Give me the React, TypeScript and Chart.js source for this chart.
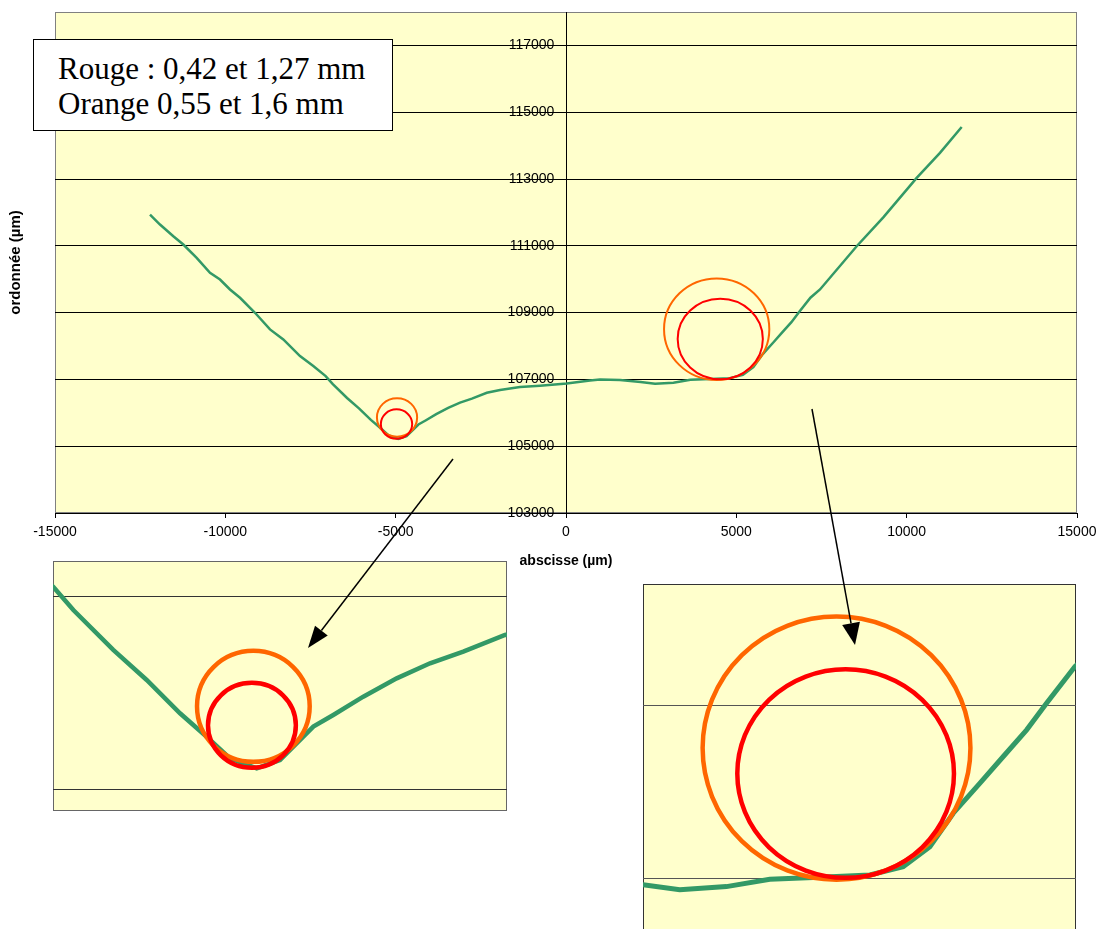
import React, { useEffect, useRef } from "react";
import { Chart, registerables } from "chart.js";

Chart.register(...registerables);

// ---- Data (µm) ----
const profileX = [
  -12211, -11918, -11527, -11234, -10841, -10450, -10156, -9863, -9569, -9129,
  -8689, -8298, -7808, -7418, -7055, -6845, -6427, -6077, -5728, -5449,
  -5205, -4925, -4681, -4332, -4123, -3809, -3459, -3110, -2762, -2325,
  -1937, -1350, -763, 21, 705, 998, 1585, 2190, 2614, 3153,
  3653, 4230, 4807, 5192, 5500, 5770, 6078, 6347, 6617, 6848,
  7175, 7456, 8533, 9314, 10294, 10978, 11615,
];
const profileY = [
  111936, 111637, 111287, 111038, 110640, 110192, 109991, 109692, 109444, 108995,
  108496, 108197, 107697, 107398, 107099, 106858, 106444, 106133, 105788, 105545,
  105321, 105218, 105304, 105649, 105770, 105960, 106150, 106306, 106426, 106599,
  106680, 106770, 106810, 106880, 106970, 107000, 106979, 106925, 106867, 106903,
  106988, 107012, 107038, 107134, 107365, 107751, 108098, 108406, 108714, 109023,
  109446, 109692, 110987, 111850, 113033, 113781, 114559,
];

// circles: orange & red at left, orange & red at right
const circleX = [-4960, -4975, 4423, 4528];
const circleY = [105860, 105663, 108503, 108209];
const circleRX = [590, 460, 1545, 1250];
const circleRY = [575, 440, 1520, 1205];
const circleColors = ["#FF6600", "#FF0000", "#FF6600", "#FF0000"];

const xTicks = [-15000, -10000, -5000, 0, 5000, 10000, 15000];
const yTicks = [103000, 105000, 107000, 109000, 111000, 113000, 115000, 117000];

const legendLines = ["Rouge : 0,42 et 1,27 mm", "Orange 0,55 et 1,6 mm"];
const xTitle = "abscisse (µm)";
const yTitle = "ordonnée (µm)";

// zoom windows for the two enlarged views
const leftZoomX = [-7058, -2304];
const leftZoomY = [104775, 107366];
const rightZoomX = [2190, 7186];
const rightZoomY = [106240, 110399];

const GREEN = "#339966";
const BG = "#FFFFCC";
const SANS = '"Liberation Sans", Arial, sans-serif';

const points = profileX.map((x, i) => ({ x, y: profileY[i] }));

const decorPlugin = {
  id: "decor",
  beforeDraw(chart: any, _a: any, opts: any) {
    const { ctx, chartArea: a } = chart;
    ctx.save();
    ctx.fillStyle = BG;
    ctx.fillRect(a.left, a.top, a.right - a.left, a.bottom - a.top);
    ctx.strokeStyle = opts.border;
    ctx.lineWidth = 1;
    ctx.strokeRect(a.left + 0.5, a.top + 0.5, a.right - a.left - 1, a.bottom - a.top - 1);
    ctx.restore();
  },
  afterDatasetsDraw(chart: any, _a: any, opts: any) {
    const { ctx, chartArea: a, scales } = chart;
    const xs = scales.x;
    const ys = scales.y;
    ctx.save();
    ctx.beginPath();
    ctx.rect(a.left, a.top, a.right - a.left, a.bottom - a.top);
    ctx.clip();
    circleX.forEach((cx, i) => {
      const px = xs.getPixelForValue(cx);
      const py = ys.getPixelForValue(circleY[i]);
      const rx = Math.abs(xs.getPixelForValue(cx + circleRX[i]) - px);
      const ry = Math.abs(ys.getPixelForValue(circleY[i] + circleRY[i]) - py);
      ctx.beginPath();
      ctx.ellipse(px, py, rx, ry, 0, 0, Math.PI * 2);
      ctx.strokeStyle = circleColors[i];
      ctx.lineWidth = opts.circleWidth;
      ctx.stroke();
    });
    ctx.restore();
  },
  afterDraw(chart: any, _a: any, opts: any) {
    if (!opts.titles) return;
    const { ctx, chartArea: a } = chart;
    ctx.save();
    ctx.fillStyle = "#000";
    ctx.textAlign = "center";
    ctx.textBaseline = "middle";
    ctx.font = "bold 14px " + SANS;
    ctx.fillText(xTitle, (a.left + a.right) / 2, a.bottom + 48);
    ctx.font = "bold 15px " + SANS;
    ctx.translate(16, (a.top + a.bottom) / 2);
    ctx.rotate(-Math.PI / 2);
    ctx.fillText(yTitle, 0, 0);
    ctx.restore();
  },
};

function mainConfig(): any {
  return {
    type: "scatter",
    data: {
      datasets: [
        {
          data: points,
          showLine: true,
          borderColor: GREEN,
          borderWidth: 2.5,
          pointRadius: 0,
          tension: 0,
          fill: false,
        },
      ],
    },
    plugins: [decorPlugin],
    options: {
      animation: false,
      responsive: false,
      maintainAspectRatio: false,
      devicePixelRatio: 1,
      layout: { padding: { left: 55, right: 20, top: 12, bottom: 0 } },
      plugins: {
        legend: { display: false },
        tooltip: { enabled: false },
        decor: { border: "#808080", circleWidth: 2, titles: true },
      },
      scales: {
        x: {
          type: "linear",
          min: -15000,
          max: 15000,
          position: "bottom",
          afterBuildTicks: (s: any) => {
            s.ticks = xTicks.map((v) => ({ value: v }));
          },
          afterFit: (s: any) => {
            s.height = 67;
            s.paddingLeft = 0;
            s.paddingRight = 0;
          },
          grid: { drawOnChartArea: false, drawTicks: true, tickLength: 5, color: "#000" },
          border: { display: true, color: "#000", width: 1 },
          ticks: {
            color: "#000",
            font: { family: SANS, size: 14 },
            padding: 6,
            maxRotation: 0,
            autoSkip: false,
            callback: (v: any) => String(v),
          },
        },
        y: {
          type: "linear",
          min: 103000,
          max: 118000,
          position: { x: 0 },
          afterBuildTicks: (s: any) => {
            s.ticks = yTicks.map((v) => ({ value: v }));
          },
          afterFit: (s: any) => {
            s.paddingTop = 0;
            s.paddingBottom = 0;
          },
          grid: { color: "#000", lineWidth: 1, tickLength: 6 },
          border: { display: true, color: "#000", width: 1 },
          ticks: {
            color: "#000",
            font: { family: SANS, size: 14 },
            padding: 6,
            autoSkip: false,
            callback: (v: any) => String(v) + "   ",
          },
        },
      },
    },
  };
}

function zoomConfig(xr: number[], yr: number[], lineW: number, circW: number, border: string, grid: string): any {
  return {
    type: "scatter",
    data: {
      datasets: [
        {
          data: points,
          showLine: true,
          borderColor: GREEN,
          borderWidth: lineW,
          pointRadius: 0,
          tension: 0,
          fill: false,
        },
      ],
    },
    plugins: [decorPlugin],
    options: {
      animation: false,
      responsive: false,
      maintainAspectRatio: false,
      devicePixelRatio: 1,
      layout: { padding: 0 },
      plugins: {
        legend: { display: false },
        tooltip: { enabled: false },
        decor: { border, circleWidth: circW, titles: false },
      },
      scales: {
        x: { type: "linear", display: false, min: xr[0], max: xr[1] },
        y: {
          type: "linear",
          min: yr[0],
          max: yr[1],
          position: "left",
          afterBuildTicks: (s: any) => {
            s.ticks = yTicks.filter((v) => v > yr[0] && v < yr[1]).map((v) => ({ value: v }));
          },
          afterFit: (s: any) => {
            s.width = 0;
          },
          grid: { color: grid, lineWidth: 1, drawTicks: false },
          border: { display: false },
          ticks: { display: false },
        },
      },
    },
  };
}

function Arrow({ x1, y1, x2, y2, len, half }: { x1: number; y1: number; x2: number; y2: number; len: number; half: number }) {
  const dx = x2 - x1;
  const dy = y2 - y1;
  const L = Math.hypot(dx, dy);
  const ux = dx / L;
  const uy = dy / L;
  const bx = x2 - ux * len;
  const by = y2 - uy * len;
  const nx = -uy;
  const ny = ux;
  const pts = `${x2},${y2} ${bx + nx * half},${by + ny * half} ${bx - nx * half},${by - ny * half}`;
  return (
    <g>
      <line x1={x1} y1={y1} x2={bx} y2={by} stroke="#000" strokeWidth={1.5} />
      <polygon points={pts} fill="#000" />
    </g>
  );
}

export default function App() {
  const mainRef = useRef<HTMLCanvasElement>(null);
  const leftRef = useRef<HTMLCanvasElement>(null);
  const rightRef = useRef<HTMLCanvasElement>(null);

  useEffect(() => {
    const charts: Chart[] = [];
    if (mainRef.current) charts.push(new Chart(mainRef.current, mainConfig()));
    if (leftRef.current)
      charts.push(new Chart(leftRef.current, zoomConfig(leftZoomX, leftZoomY, 4.5, 4.5, "#666666", "#333333")));
    if (rightRef.current)
      charts.push(new Chart(rightRef.current, zoomConfig(rightZoomX, rightZoomY, 5, 4.5, "#333333", "#555555")));
    return () => charts.forEach((c) => c.destroy());
  }, []);

  return (
    <div
      style={{
        position: "absolute",
        left: 0,
        top: 0,
        width: 1097,
        height: 929,
        overflow: "hidden",
        background: "#fff",
      }}
    >
      <canvas
        ref={mainRef}
        width={1097}
        height={580}
        style={{ position: "absolute", left: 0, top: 0, width: 1097, height: 580 }}
      />
      <canvas
        ref={leftRef}
        width={454}
        height={250}
        style={{ position: "absolute", left: 53, top: 561, width: 454, height: 250 }}
      />
      <canvas
        ref={rightRef}
        width={433}
        height={360}
        style={{ position: "absolute", left: 643, top: 584, width: 433, height: 360 }}
      />
      <div
        style={{
          position: "absolute",
          left: 33,
          top: 39,
          width: 360,
          height: 92,
          boxSizing: "border-box",
          border: "1.5px solid #000",
          background: "#fff",
          fontFamily: '"Liberation Serif", "Times New Roman", serif',
          fontSize: 31,
          lineHeight: "35px",
          paddingLeft: 24,
          paddingTop: 11,
          color: "#000",
          whiteSpace: "nowrap",
        }}
      >
        {legendLines.map((t, i) => (
          <div key={i}>{t}</div>
        ))}
      </div>
      <svg
        width={1097}
        height={929}
        style={{ position: "absolute", left: 0, top: 0, pointerEvents: "none" }}
      >
        <Arrow x1={453} y1={459} x2={308} y2={648} len={22} half={8} />
        <Arrow x1={812} y1={409} x2={855} y2={645} len={22} half={9} />
      </svg>
    </div>
  );
}
